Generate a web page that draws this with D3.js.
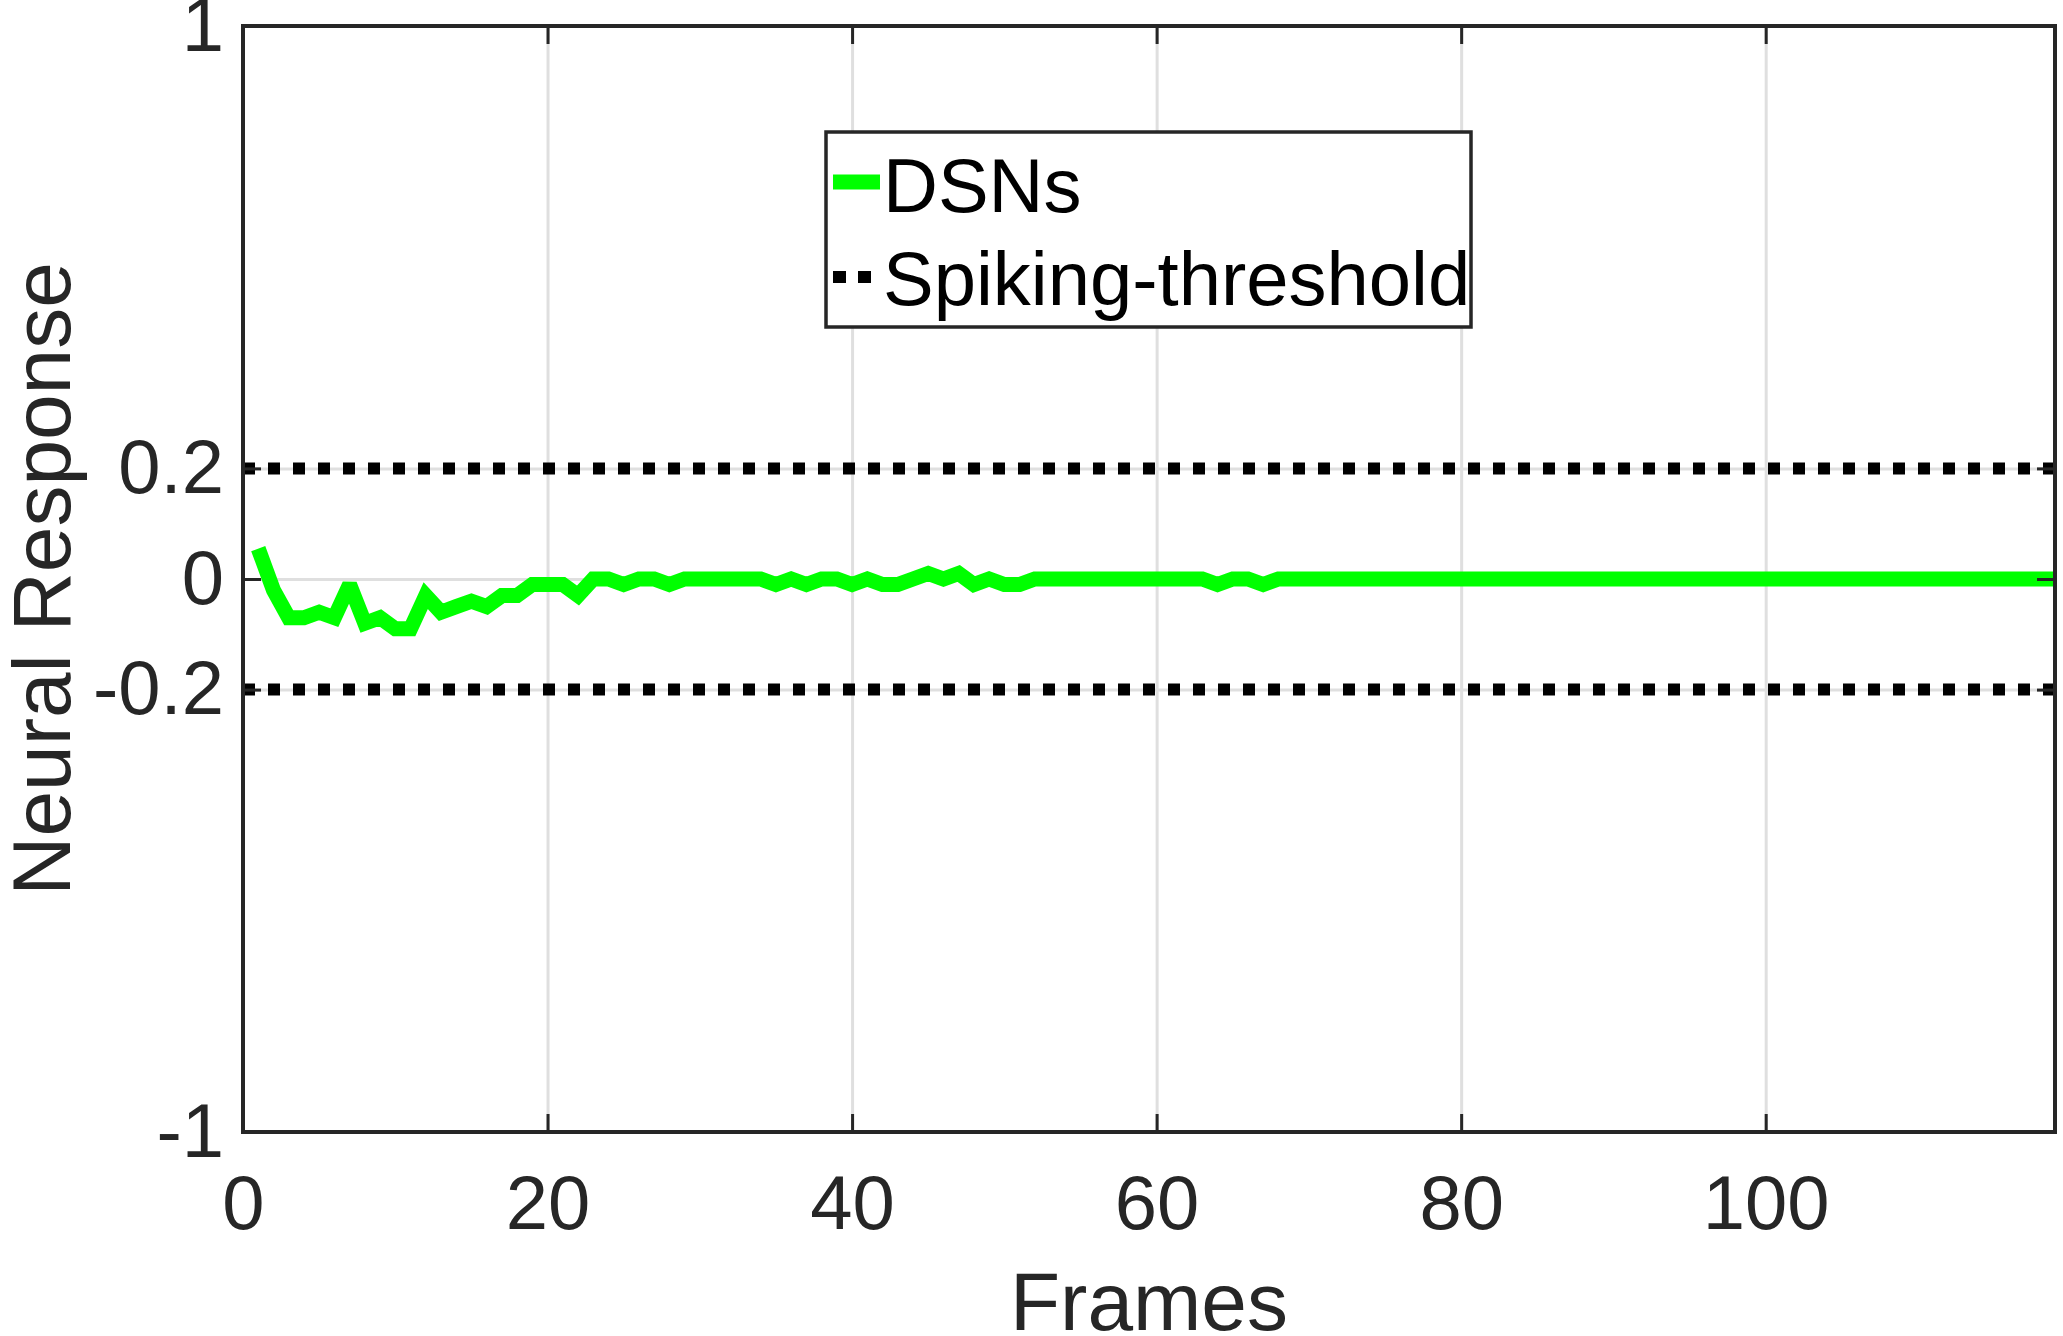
<!DOCTYPE html>
<html>

<head>
    <meta charset="utf-8">
    <script src="https://d3js.org/d3.v7.min.js"></script>
    <style>
        body { margin: 0; background: #fff; }
        text { font-family: "Liberation Sans", Arial, Helvetica, sans-serif; }
    </style>
</head>

<body>
    <script>
        // neural response of the DSNs, one value per frame (frames 1..119)
        let frames = d3.range(1, 120);
        let response = [
            0.055, -0.02, -0.07, -0.07, -0.06, -0.07, -0.01, -0.08, -0.07, -0.09,
            -0.09, -0.03, -0.06, -0.05, -0.04, -0.05, -0.03, -0.03, -0.01, -0.01,
            -0.01, -0.03, 0, 0, -0.01, 0, 0, -0.01, 0, 0,
            0, 0, 0, 0, -0.01, 0, -0.01, 0, 0, -0.01,
            0, -0.01, -0.01, 0, 0.01, 0, 0.01, -0.01, 0, -0.01,
            -0.01, 0, 0, 0, 0, 0, 0, 0, 0, 0,
            0, 0, 0, -0.01, 0, 0, -0.01, 0, 0, 0,
            0, 0, 0, 0, 0, 0, 0, 0, 0, 0,
            0, 0, 0, 0, 0, 0, 0, 0, 0, 0,
            0, 0, 0, 0, 0, 0, 0, 0, 0, 0,
            0, 0, 0, 0, 0, 0, 0, 0, 0, 0,
            0, 0, 0, 0, 0, 0, 0, 0, 0
        ];
        let thresholds = [0.2, -0.2];
        let xTicks = [0, 20, 40, 60, 80, 100];
        let yTicks = [-1, -0.2, 0, 0.2, 1];
        let yTickLabels = ["-1", "-0.2", "0", "0.2", "1"];
        let legendLabels = ["DSNs", "Spiking-threshold"];

        let width = 2063,
            height = 1336;
        let margin = {top: 26, right: 8, bottom: 204, left: 243};
        let w = width - margin.left - margin.right,
            h = height - margin.top - margin.bottom;

        let ink = "#262626";
        let tickLen = 18;

        let svg = d3.select("body").append("svg")
            .attr("width", width)
            .attr("height", height);

        let g = svg.append("g")
            .attr("transform", "translate(" + margin.left + "," + margin.top + ")");

        let x = d3.scaleLinear().domain([0, 119]).range([0, w]);
        let y = d3.scaleLinear().domain([-1, 1]).range([h, 0]);

        // grid
        g.append("g")
            .call(d3.axisBottom(x).tickValues(xTicks).tickSize(h).tickFormat(""))
            .call(a => a.select(".domain").remove())
            .selectAll("line").attr("stroke", "#dfdfdf").attr("stroke-width", 3);
        g.append("g")
            .call(d3.axisRight(y).tickValues(yTicks).tickSize(w).tickFormat(""))
            .call(a => a.select(".domain").remove())
            .selectAll("line").attr("stroke", "#dfdfdf").attr("stroke-width", 3);

        // threshold lines
        g.selectAll(".thr")
            .data(thresholds)
            .join("line")
                .attr("class", "thr")
                .attr("x1", x(0))
                .attr("x2", x(119))
                .attr("y1", d => y(d))
                .attr("y2", d => y(d))
                .attr("stroke", "#000")
                .attr("stroke-width", 12)
                .attr("stroke-dasharray", "12 13");

        // response line
        let line = d3.line()
            .x((d, i) => x(frames[i]))
            .y(d => y(d));

        g.append("path")
            .datum(response)
            .attr("d", line)
            .attr("fill", "none")
            .attr("stroke", "#00ff00")
            .attr("stroke-width", 15)
            .attr("stroke-linejoin", "miter")
            .attr("stroke-miterlimit", 2);

        // axes, ticks pointing inward on all four sides
        let fontSize = 76;
        let xAxis = g.append("g")
            .attr("transform", "translate(0," + h + ")")
            .call(d3.axisBottom(x).tickValues(xTicks).tickSize(-tickLen).tickPadding(43).tickFormat(d3.format("d")));
        let yAxis = g.append("g")
            .call(d3.axisLeft(y).tickValues(yTicks).tickSize(-tickLen).tickPadding(19)
                .tickFormat((d, i) => yTickLabels[i]));
        let topAxis = g.append("g")
            .call(d3.axisTop(x).tickValues(xTicks).tickSize(-tickLen).tickFormat(""));
        let rightAxis = g.append("g")
            .attr("transform", "translate(" + w + ",0)")
            .call(d3.axisRight(y).tickValues(yTicks).tickSize(-tickLen).tickFormat(""));

        [xAxis, yAxis, topAxis, rightAxis].forEach(a => {
            a.select(".domain").remove();
            a.selectAll("line").attr("stroke", ink).attr("stroke-width", 3);
            a.selectAll("text")
                .attr("fill", ink)
                .style("font-size", fontSize + "px");
        });

        g.append("rect")
            .attr("width", w)
            .attr("height", h)
            .attr("fill", "none")
            .attr("stroke", ink)
            .attr("stroke-width", 4);

        // axis titles
        svg.append("text")
            .attr("x", margin.left + w / 2)
            .attr("y", 1330)
            .attr("text-anchor", "middle")
            .attr("fill", ink)
            .style("font-size", "82px")
            .text("Frames");

        svg.append("text")
            .attr("transform", "translate(70," + (margin.top + h / 2) + ") rotate(-90)")
            .attr("text-anchor", "middle")
            .attr("fill", ink)
            .style("font-size", "82px")
            .text("Neural Response");

        // legend
        let legend = svg.append("g").attr("transform", "translate(826,132)");
        legend.append("rect")
            .attr("width", 645)
            .attr("height", 195)
            .attr("fill", "#fff")
            .attr("stroke", ink)
            .attr("stroke-width", 3.5);
        legend.append("line")
            .attr("x1", 7).attr("x2", 54)
            .attr("y1", 50).attr("y2", 50)
            .attr("stroke", "#00ff00")
            .attr("stroke-width", 15);
        legend.append("line")
            .attr("x1", 7).attr("x2", 47)
            .attr("y1", 145).attr("y2", 145)
            .attr("stroke", "#000")
            .attr("stroke-width", 12)
            .attr("stroke-dasharray", "13 12");
        legend.selectAll(".lab")
            .data(legendLabels)
            .join("text")
                .attr("class", "lab")
                .attr("x", 57)
                .attr("y", (d, i) => i == 0 ? 80 : 173)
                .attr("fill", "#000")
                .style("font-size", "76px")
                .text(d => d);
    </script>
</body>

</html>
